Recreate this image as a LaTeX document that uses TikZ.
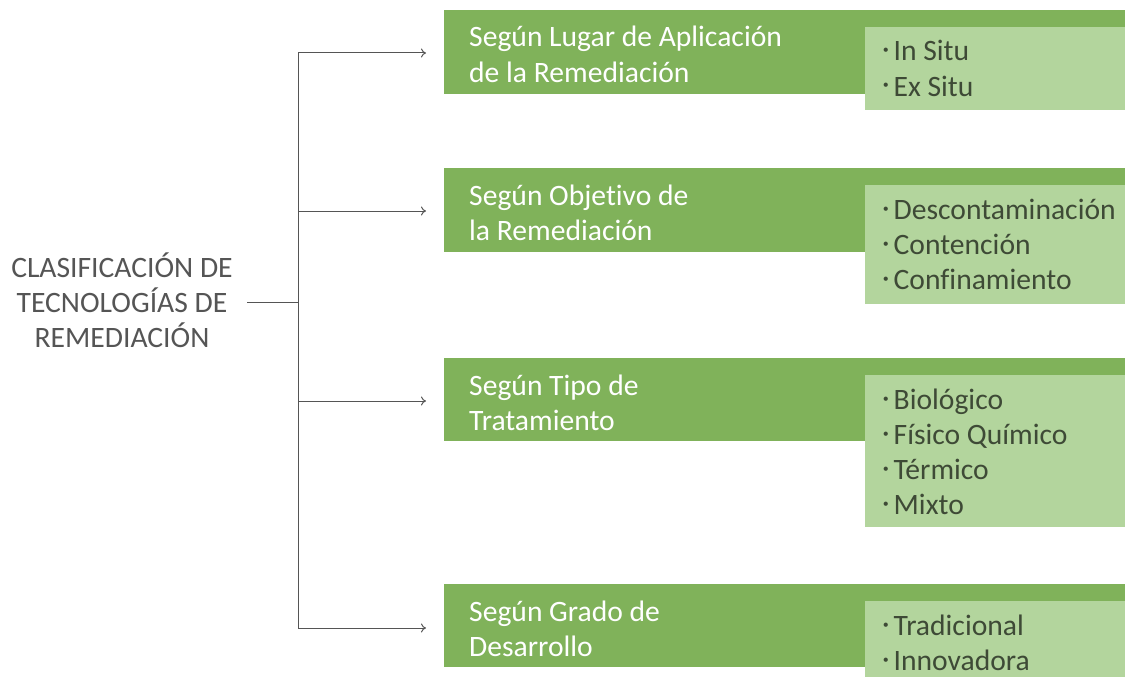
\documentclass[tikz,border=0pt]{standalone}
\usepackage{fontspec}
\setmainfont{Carlito}[Ligatures=NoCommon]
\usetikzlibrary{arrows.meta}
\definecolor{dkgreen}{HTML}{80B25A}
\definecolor{ltgreen}{HTML}{B3D59D}
\definecolor{itemtxt}{HTML}{3E4A36}
\definecolor{linegray}{HTML}{555555}
\newcommand{\bul}{\raisebox{2pt}{·}\hspace{4pt}}
\begin{document}
\begin{tikzpicture}[x=1pt,y=-1pt,
  bar/.style={fill=dkgreen,draw=none,anchor=north west,inner sep=0pt,minimum width=681pt},
  sub/.style={fill=ltgreen,draw=none,anchor=north west,inner sep=0pt,minimum width=260pt},
  ttl/.style={anchor=base west,inner sep=0pt,text=white,font=\fontsize{29.6}{35}\selectfont},
  itm/.style={anchor=base west,inner sep=0pt,text=itemtxt,font=\fontsize{29.6}{35}\selectfont},
  roottxt/.style={anchor=base,inner sep=0pt,text=linegray,font=\fontsize{29.6}{35}\selectfont},
  conn/.style={draw=linegray,line width=1pt},
  arr/.style={conn,-{To[length=5pt,width=9pt]},shorten >=18pt}
]
\useasboundingbox (0,0) rectangle (1125,677);
% bars
\node[bar,minimum height=84pt] (b1) at (444,10) {};
\node[sub,minimum height=83pt] (s1) at (865,27) {};
\node[bar,minimum height=84pt] (b2) at (444,168) {};
\node[sub,minimum height=119pt] (s2) at (865,185) {};
\node[bar,minimum height=83pt] (b3) at (444,358) {};
\node[sub,minimum height=152pt] (s3) at (865,375) {};
\node[bar,minimum height=83pt] (b4) at (444,584) {};
\node[sub,minimum height=76pt] (s4) at (865,601) {};
% titles
\node[ttl] (t1a) at (469,47) {Según Lugar de Aplicación};
\node[ttl] (t1b) at (469,82) {de la Remediación};
\node[ttl] (t2a) at (469,205) {Según Objetivo de};
\node[ttl] (t2b) at (469,240) {la Remediación};
\node[ttl] (t3a) at (469,395) {Según Tipo de};
\node[ttl] (t3b) at (469,430) {Tratamiento};
\node[ttl] (t4a) at (469,621) {Según Grado de};
\node[ttl] (t4b) at (469,656) {Desarrollo};
% items
\node[itm] (i1a) at (882,61) {\bul In Situ};
\node[itm] (i1b) at (882,96) {\bul Ex Situ};
\node[itm] (i2a) at (882,219) {\bul Descontaminación};
\node[itm] (i2b) at (882,254) {\bul Contención};
\node[itm] (i2c) at (882,289) {\bul Confinamiento};
\node[itm] (i3a) at (882,409) {\bul Biológico};
\node[itm] (i3b) at (882,444) {\bul Físico Químico};
\node[itm] (i3c) at (882,479) {\bul Térmico};
\node[itm] (i3d) at (882,514) {\bul Mixto};
\node[itm] (i4a) at (882,635) {\bul Tradicional};
\node[itm] (i4b) at (882,670) {\bul Innovadora};
% root
\node[roottxt] (r1) at (122,277) {CLASIFICACIÓN DE};
\node[roottxt] (r2) at (122,312) {TECNOLOGÍAS DE};
\node[roottxt] (r3) at (122,347) {REMEDIACIÓN};
% connectors
\coordinate (rootend) at (247,302);
\coordinate (jn) at (298,302);
\coordinate (j1) at (298,53);
\coordinate (j2) at (298,211);
\coordinate (j3) at (298,401);
\coordinate (j4) at (298,628);
\draw[conn] (rootend) -- (jn);
\draw[conn] (j1) -- (j4);
\draw[arr] (j1) -- (j1 -| b1.west);
\draw[arr] (j2) -- (j2 -| b2.west);
\draw[arr] (j3) -- (j3 -| b3.west);
\draw[arr] (j4) -- (j4 -| b4.west);
\end{tikzpicture}
\end{document}
